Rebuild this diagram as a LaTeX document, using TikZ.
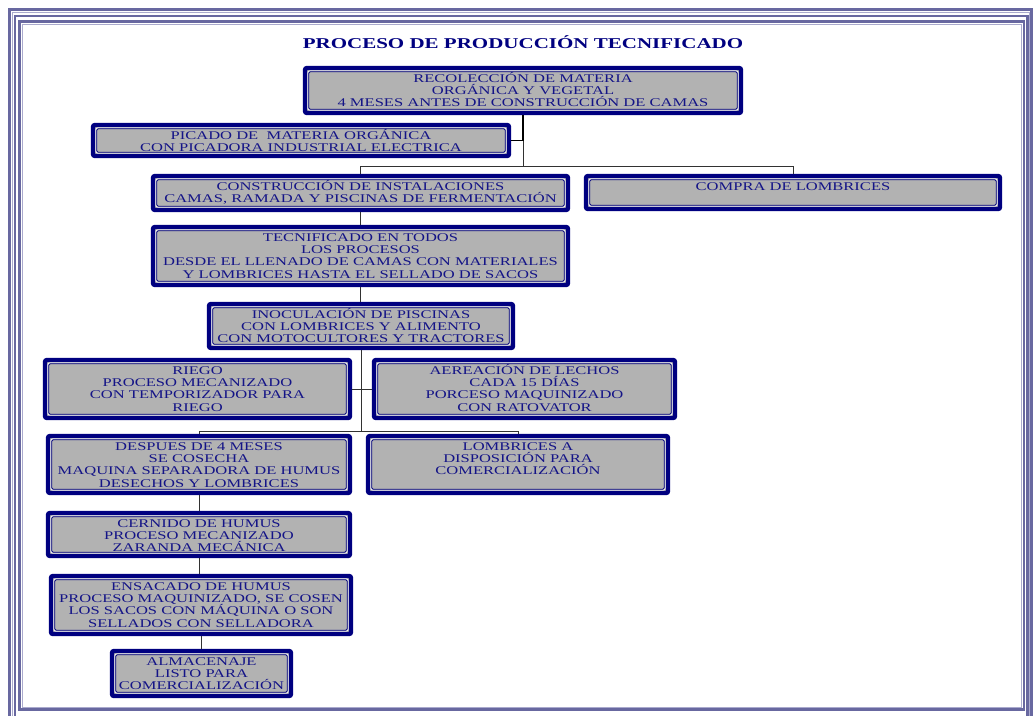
\documentclass[tikz,border=0pt]{standalone}
\usepackage{fontspec}
\setmainfont{Liberation Serif}[FakeStretch=1.4]
\definecolor{navyline}{RGB}{0,0,128}
\definecolor{navytext}{RGB}{20,20,135}
\definecolor{boxgray}{RGB}{178,178,178}
\definecolor{frameblue}{RGB}{104,104,160}
\definecolor{framelight}{RGB}{170,170,205}
\definecolor{linkgray}{RGB}{50,50,50}
% box content: fixed width and height, text hung from the top
\newcommand\bx[3]{\parbox[c][#2pt][t]{#1pt}{\centering\fontsize{11.8}{12.4}\selectfont\rule{0pt}{14pt}#3}}
\tikzset{
  stepbox/.style={draw=navyline, line width=4.4pt, rounded corners=2pt, fill=boxgray,
    inner sep=0pt, text=navytext,
    path picture={
      \draw[white, line width=0.8pt]
        ([shift={(2.8pt,-2.8pt)}]path picture bounding box.north west) rectangle
        ([shift={(-2.8pt,2.8pt)}]path picture bounding box.south east);
      \draw[navyline, line width=0.8pt]
        ([shift={(3.7pt,-3.7pt)}]path picture bounding box.north west) rectangle
        ([shift={(-3.7pt,3.7pt)}]path picture bounding box.south east);
    }},
  link/.style={draw=linkgray, line width=1pt},
  mainlink/.style={draw=black, line width=1.6pt},
  frameline/.style={draw=frameblue},
}
\begin{document}
\begin{tikzpicture}[x=1pt,y=-1pt]
\useasboundingbox (0,0) rectangle (1036,715);
\clip (0,0) rectangle (1036,715);
% page frame
\draw[frameline, line width=3pt] (9.5,9.5) rectangle (1031.5,730);
\draw[framelight, line width=1pt] (12,12) rectangle (1029,730);
\draw[frameline, line width=2.6pt] (14.8,15.8) rectangle (1027.5,730);
\draw[frameline, line width=2.2pt] (19.5,21.5) rectangle (1024,709.5);
\draw[framelight, line width=0.8pt] (22,24) rectangle (1021.5,707);

% title
\node[text=navyline, font=\fontsize{15}{16}\selectfont\bfseries] (title) at (523,42)
  {PROCESO DE PRODUCCIÓN TECNIFICADO};

% process boxes
\node[stepbox] (n1) at (523,90.5) {\bx{436}{45}{RECOLECCIÓN DE MATERIA\\ORGÁNICA Y VEGETAL\\4 MESES ANTES DE CONSTRUCCIÓN DE CAMAS}};
\node[stepbox] (n2) at (301,140.5) {\bx{416}{31}{PICADO DE\ \ MATERIA ORGÁNICA\\CON PICADORA INDUSTRIAL ELECTRICA}};
\node[stepbox] (n3) at (360.5,193) {\bx{415}{34}{CONSTRUCCIÓN DE INSTALACIONES\\CAMAS, RAMADA Y PISCINAS DE FERMENTACIÓN}};
\node[stepbox] (n4) at (793,192.5) {\bx{414}{33}{COMPRA DE LOMBRICES}};
\node[stepbox] (n5) at (360.5,256) {\bx{415}{58}{TECNIFICADO EN TODOS\\LOS PROCESOS\\DESDE EL LLENADO DE CAMAS CON MATERIALES\\Y LOMBRICES HASTA EL SELLADO DE SACOS}};
\node[stepbox] (n6) at (361,326) {\bx{304}{44}{INOCULACIÓN DE PISCINAS\\CON LOMBRICES Y ALIMENTO\\CON MOTOCULTORES Y TRACTORES}};
\node[stepbox] (n7) at (197.5,389) {\bx{305}{58}{RIEGO\\PROCESO MECANIZADO\\CON TEMPORIZADOR PARA\\RIEGO}};
\node[stepbox] (n8) at (524.5,389) {\bx{301}{58}{AEREACIÓN DE LECHOS\\CADA 15 DÍAS\\PORCESO MAQUINIZADO\\CON RATOVATOR}};
\node[stepbox] (n9) at (199,464.5) {\bx{302}{57}{DESPUES DE 4 MESES\\SE COSECHA\\MAQUINA SEPARADORA DE HUMUS\\DESECHOS Y LOMBRICES}};
\node[stepbox] (n10) at (518,464.5) {\bx{300}{57}{LOMBRICES A\\DISPOSICIÓN PARA\\COMERCIALIZACIÓN}};
\node[stepbox] (n11) at (199,534.5) {\bx{302}{43}{CERNIDO DE HUMUS\\PROCESO MECANIZADO\\ZARANDA MECÁNICA}};
\node[stepbox] (n12) at (201,605) {\bx{300}{58}{ENSACADO DE HUMUS\\PROCESO MAQUINIZADO, SE COSEN\\LOS SACOS CON MÁQUINA O SON\\SELLADOS CON SELLADORA}};
\node[stepbox] (n13) at (201.5,673.5) {\bx{179}{45}{ALMACENAJE\\LISTO PARA\\COMERCIALIZACIÓN}};

% junction points of the connectors
\coordinate (bus1) at (523,166);
\coordinate (bus2) at (361,431);

% connectors
\draw[mainlink] (n1.south) |- (n2.east);
\draw[link] (n2.east -| n1.south) -- (bus1);
\draw[link] (bus1) -| (n3.north);
\draw[link] (bus1) -| (n4.north);
\draw[link] (n3.south) -- (n5.north);
\draw[link] (n5.south) -- (n5.south |- n6.north);
\draw[link] (n6.south) -- (bus2);
\draw[link] (n7.east) -- (n8.west);
\draw[link] (bus2) -| (n9.north);
\draw[link] (bus2) -| (n10.north);
\draw[link] (n9.south) -- (n11.north);
\draw[link] (n11.south) -- (n11.south |- n12.north);
\draw[link] (n12.south) -- (n12.south |- n13.north);
\end{tikzpicture}
\end{document}
